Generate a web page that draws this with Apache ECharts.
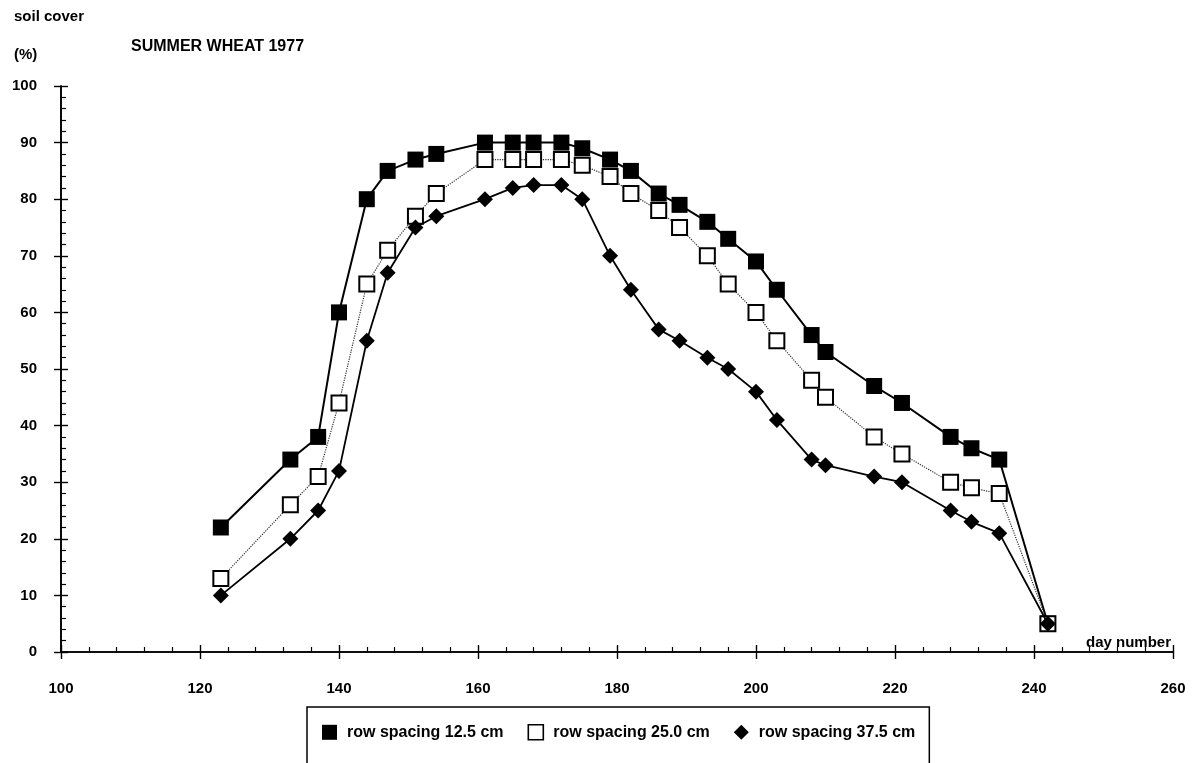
<!DOCTYPE html>
<html>
<head>
<meta charset="utf-8">
<script src="https://cdn.jsdelivr.net/npm/echarts@6/dist/echarts.min.js"></script>
<style>
html,body{margin:0;padding:0;background:#fff;}
#chart{width:1204px;height:763px;}
</style>
</head>
<body>
<div id="chart"></div>
<script>
const days = [123,133,137,140,144,147,151,154,161,165,168,172,175,179,182,186,189,193,196,200,203,208,210,217,221,228,231,235,242];
const rs125 = [22,34,38,60,80,85,87,88,90,90,90,90,89,87,85,81,79,76,73,69,64,56,53,47,44,38,36,34,5];
const rs250 = [13,26,31,44,65,71,77,81,87,87,87,87,86,84,81,78,75,70,65,60,55,48,45,38,35,30,29,28,5];
const rs375 = [10,20,25,32,55,67,75,77,80,82,82.5,82.5,80,70,64,57,55,52,50,46,41,34,33,31,30,25,23,21,5];
const seriesNames = ['row spacing 12.5 cm','row spacing 25.0 cm','row spacing 37.5 cm'];
const xTicks = {min:100, max:260, interval:20};
const yTicks = {min:0, max:100, interval:10};

const FONT = '"Liberation Sans", Arial, sans-serif';
const pairs = v => days.map((d,i)=>[d,v[i]]);

const chart = echarts.init(document.getElementById('chart'), null, {renderer:'canvas'});
const baseX = {type:'value', min:xTicks.min, max:xTicks.max, interval:xTicks.interval, position:'bottom',
  axisLine:{show:true, onZero:false, lineStyle:{color:'#000', width:1.6}}, splitLine:{show:false}};
const baseY = {type:'value', min:yTicks.min, max:yTicks.max, interval:yTicks.interval, position:'left',
  axisLine:{show:true, onZero:false, lineStyle:{color:'#000', width:1.6}}, splitLine:{show:false}};

chart.setOption({
  animation:false,
  backgroundColor:'#fff',
  title:[
    {text:'soil cover', left:9, top:4, textStyle:{fontFamily:FONT, fontSize:15, fontWeight:'bold', color:'#000'}},
    {text:'(%)', left:9, top:42, textStyle:{fontFamily:FONT, fontSize:15, fontWeight:'bold', color:'#000'}},
    {text:'SUMMER WHEAT 1977', left:126, top:34, textStyle:{fontFamily:FONT, fontSize:16, fontWeight:'bold', color:'#000'}}
  ],
  grid:{left:61, right:31, top:86, bottom:111, containLabel:false},
  xAxis:[
    Object.assign({}, baseX, {
      axisTick:{show:true, inside:false, length:7, lineStyle:{color:'#000', width:1.4}},
      axisLabel:{show:true, margin:29, fontFamily:FONT, fontSize:15, fontWeight:'bold', color:'#000'},
      name:'day number', nameLocation:'end', nameGap:-2,
      nameTextStyle:{fontFamily:FONT, fontSize:15, fontWeight:'bold', color:'#000', align:'right', verticalAlign:'bottom', padding:[0,0,2,0]}
    }),
    Object.assign({}, baseX, {
      axisTick:{show:true, inside:true, length:7, lineStyle:{color:'#000', width:1.4}},
      minorTick:{show:true, splitNumber:5, length:5, lineStyle:{color:'#000', width:1.2}},
      axisLabel:{show:false}
    })
  ],
  yAxis:[
    Object.assign({}, baseY, {
      axisTick:{show:true, inside:false, length:7, lineStyle:{color:'#000', width:1.4}},
      axisLabel:{show:true, margin:24, fontFamily:FONT, fontSize:15, fontWeight:'bold', color:'#000'}
    }),
    Object.assign({}, baseY, {
      axisTick:{show:true, inside:true, length:7, lineStyle:{color:'#000', width:1.4}},
      minorTick:{show:true, splitNumber:5, length:5, lineStyle:{color:'#000', width:1.2}},
      axisLabel:{show:false}
    })
  ],
  legend:{
    left:307, top:707, orient:'horizontal',
    padding:[17,14,24,15], itemGap:24, itemWidth:15, itemHeight:15,
    borderColor:'#000', borderWidth:1.5, backgroundColor:'#fff',
    textStyle:{fontFamily:FONT, fontSize:16, fontWeight:'bold', color:'#000', padding:[0,0,0,5]},
    data:[
      {name:seriesNames[0], icon:'rect', itemStyle:{color:'#000', borderWidth:0}},
      {name:seriesNames[1], icon:'rect', itemStyle:{color:'#fff', borderColor:'#000', borderWidth:1.6}},
      {name:seriesNames[2], icon:'diamond', itemStyle:{color:'#000', borderWidth:0}}
    ]
  },
  series:[
    {name:seriesNames[0], type:'line', xAxisIndex:0, yAxisIndex:0, data:pairs(rs125),
     symbol:'rect', symbolSize:16, showAllSymbol:true,
     lineStyle:{color:'#000', width:2}, itemStyle:{color:'#000'}, z:2},
    {name:seriesNames[1], type:'line', xAxisIndex:0, yAxisIndex:0, data:pairs(rs250),
     symbol:'rect', symbolSize:15, showAllSymbol:true,
     lineStyle:{color:'#333', width:1.2, type:'dotted'}, itemStyle:{color:'#fff', borderColor:'#000', borderWidth:2}, z:3},
    {name:seriesNames[2], type:'line', xAxisIndex:0, yAxisIndex:0, data:pairs(rs375),
     symbol:'diamond', symbolSize:16, showAllSymbol:true,
     lineStyle:{color:'#000', width:1.8}, itemStyle:{color:'#000'}, z:4}
  ]
});
</script>
</body>
</html>
